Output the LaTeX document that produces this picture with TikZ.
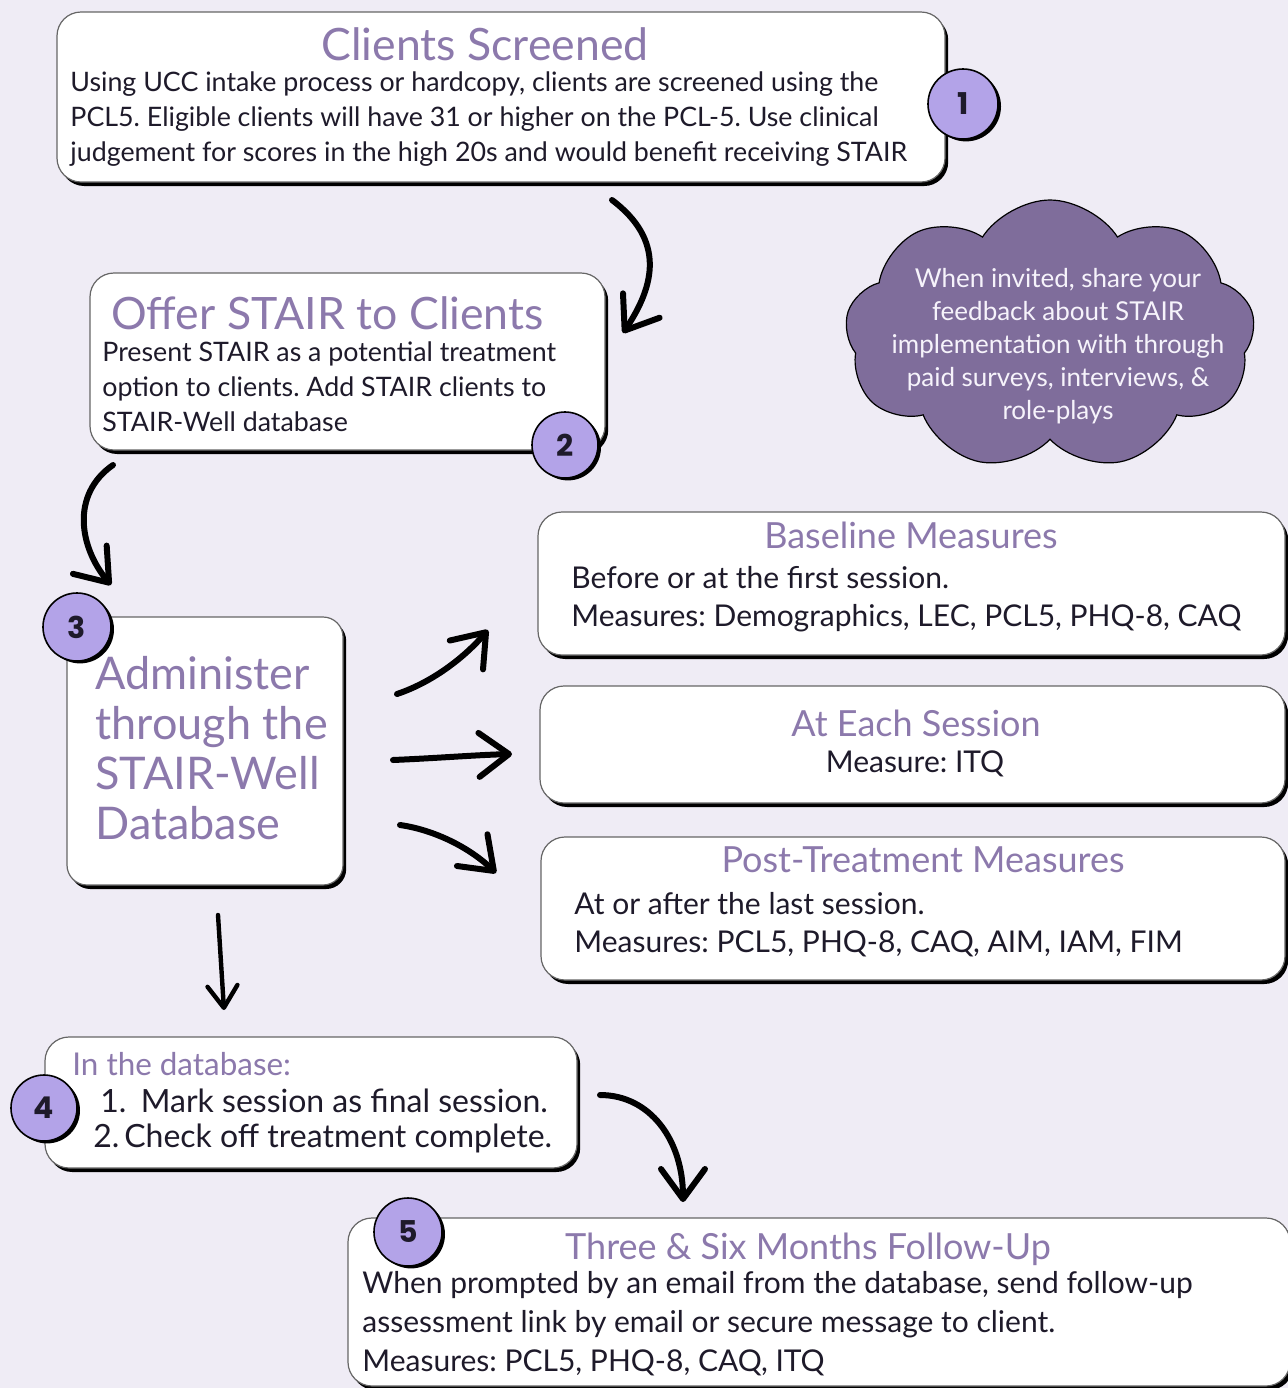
\documentclass[tikz,border=0pt]{standalone}
\usepackage{fontspec}
\setmainfont{Lato}
\newfontfamily\numfont{Poppins}
\usetikzlibrary{arrows.meta,shapes.symbols,shadows}
\definecolor{bg}{HTML}{EFECF5}
\definecolor{ttl}{HTML}{8C79AC}
\definecolor{circ}{HTML}{B3A3E8}
\definecolor{cloudc}{HTML}{7F6D9B}
\definecolor{cloudtxt}{HTML}{F6F3FB}
\definecolor{txt}{HTML}{1E1A2A}
\frenchspacing
\begin{document}
\begin{tikzpicture}[x=0.5pt,y=-0.5pt,
  box/.style={draw=black!60, line width=0.6pt, fill=white, rounded corners=12pt,
    general shadow={fill=black, shadow xshift=1.6pt, shadow yshift=-2pt}, inner sep=0pt},
  numc/.style={circle, draw=black, line width=0.8pt, fill=circ, minimum size=34pt, inner sep=0pt,
    general shadow={fill=black, shadow xshift=1.5pt, shadow yshift=-1.2pt},
    font=\numfont\bfseries\fontsize{15}{15}\selectfont, text=txt},
  ttlA/.style={text=ttl, inner sep=0pt, font=\fontsize{22.3}{25}\selectfont},
  ttlB/.style={text=ttl, inner sep=0pt, font=\fontsize{18}{20}\selectfont},
  bodyA/.style={text=txt, inner sep=0pt, align=left, font=\fontsize{13.4}{17.5}\selectfont},
  bodyB/.style={text=txt, inner sep=0pt, align=left, font=\fontsize{15}{19}\selectfont},
  arr/.style={line width=3pt, line cap=round, draw=black,
    -{Straight Barb[length=15pt,width=22pt,line join=round,line cap=round]}},
  arrS/.style={line width=2.2pt, line cap=round, draw=black,
    -{Straight Barb[length=11pt,width=15pt,line join=round,line cap=round]}},
]
\useasboundingbox[fill=bg] (0,0) rectangle (1288,1388);

% ---------- boxes ----------
\node[box, minimum width=444pt, minimum height=85pt] (b1) at (501,97) {};
\node[box, minimum width=257.5pt, minimum height=88.5pt] (b2) at (347.5,361.5) {};
\node[box, rounded corners=10pt, minimum width=138pt, minimum height=134pt] (b3) at (205,751) {};
\node[box, minimum width=373.5pt, minimum height=71.5pt] (bb) at (911.5,583.5) {};
\node[box, minimum width=372.5pt, minimum height=58.5pt] (be) at (912.5,744.5) {};
\node[box, minimum width=372pt, minimum height=71.5pt] (bp) at (913,908.5) {};
\node[box, minimum width=266pt, minimum height=65.5pt] (b4) at (311,1102.5) {};
\node[box, minimum width=471pt, minimum height=84pt] (b5) at (819,1302) {};

% ---------- cloud ----------
\node[cloud, cloud puffs=9, cloud puff arc=115, cloud ignores aspect, draw=black, line width=0.6pt,
  fill=cloudc, minimum width=205pt, minimum height=135pt] (cl) at (1050,335) {};
\node[text=cloudtxt, align=center, inner sep=0pt, font=\fontsize{13}{16.5}\selectfont] (clt) at (1058,346)
  {When invited, share your\\feedback about STAIR\\implementation with through\\paid surveys, interviews, \&\\role-plays};

% ---------- texts ----------
\node[ttlA] (t1) at (485,44) {Clients Screened};
\node[bodyA, anchor=west] (x1) at (70,119) {Using UCC intake process or hardcopy, clients are screened using the\\PCL5. Eligible clients will have 31 or higher on the PCL-5. Use clinical\\judgement for scores in the high 20s and would benefit receiving STAIR};

\node[ttlA, anchor=west] (t2) at (111,313) {Offer STAIR to Clients};
\node[bodyA, anchor=west] (x2) at (102,387) {Present STAIR as a potential treatment\\option to clients. Add STAIR clients to\\STAIR-Well database};

\node[ttlA, anchor=west, align=left, font=\fontsize{22.5}{25}\selectfont] (t3) at (95,748) {Administer\\through the\\STAIR-Well\\Database};

\node[ttlB] (tb) at (911,535) {Baseline Measures};
\node[bodyB, anchor=west] (xb) at (571,599) {Before or at the first session.\\Measures: Demographics, LEC, PCL5, PHQ-8, CAQ};

\node[ttlB] (te) at (916,723) {At Each Session};
\node[bodyB] (xe) at (915,764) {Measure: ITQ};

\node[ttlB] (tp) at (923,860) {Post-Treatment Measures};
\node[bodyB, anchor=west] (xp) at (574,925) {At or after the last session.\\Measures: PCL5, PHQ-8, CAQ, AIM, IAM, FIM};

\node[ttlB, anchor=west, font=\fontsize{15.7}{19}\selectfont] (t4) at (72,1064) {In the database:};
\node[bodyB, anchor=west, font=\fontsize{16}{19}\selectfont] (x4a) at (100,1101) {1.\hspace{0.45em}Mark session as final session.};
\node[bodyB, anchor=west, font=\fontsize{16}{19}\selectfont] (x4b) at (93,1138) {2.\hspace{0.15em}Check off treatment complete.};

\node[ttlB] (t5) at (808,1249) {Three \& Six Months Follow-Up};
\node[bodyB, anchor=west, font=\fontsize{15}{19.5}\selectfont] (x5) at (362,1324) {When prompted by an email from the database, send follow-up\\assessment link by email or secure message to client.\\Measures: PCL5, PHQ-8, CAQ, ITQ};

% ---------- number circles ----------
\node[numc, minimum size=35pt] (n1) at (963,104) {1};
\node[numc, minimum size=33pt] (n2) at (565,445) {2};
\node[numc] (n3) at (77,627) {3};
\node[numc, minimum size=33pt] (n4) at (44,1108) {4};
\node[numc] (n5) at (408,1232) {5};

% ---------- arrows ----------
\coordinate (a1s) at (612,200); \coordinate (a1e) at (623,333);
\coordinate (a2s) at (113,465); \coordinate (a2e) at (111,585);
\coordinate (a3s) at (397,694); \coordinate (a3e) at (488,630);
\coordinate (a4s) at (393,760); \coordinate (a4e) at (512,754);
\coordinate (a5s) at (400,825); \coordinate (a5e) at (496,873);
\coordinate (a6s) at (218,915); \coordinate (a6e) at (224,1010);
\coordinate (a7s) at (600,1095); \coordinate (a7e) at (683,1202);

\draw[arr] (a1s) .. controls (665,240) and (655,285) .. (a1e);
\draw[arr] (a2s) .. controls (70,495) and (80,548) .. (a2e);
\draw[arr] (a3s) .. controls (430,683) and (462,660) .. (a3e);
\draw[arr] (a4s) .. controls (440,758) and (475,755) .. (a4e);
\draw[arr] (a5s) .. controls (435,830) and (470,848) .. (a5e);
\draw[arrS] (a6s) -- (a6e);
\draw[arr] (a7s) .. controls (650,1095) and (683,1140) .. (a7e);
\end{tikzpicture}
\end{document}
